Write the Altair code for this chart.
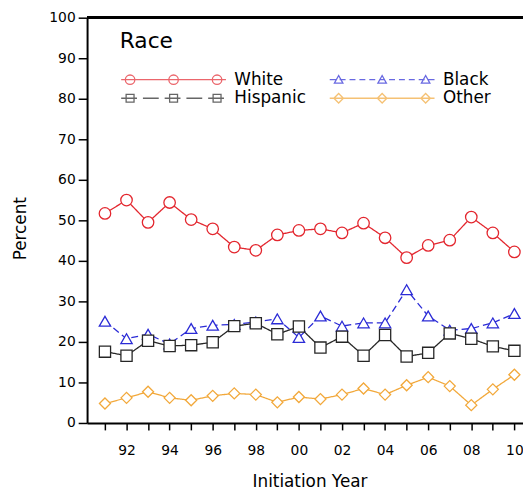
import altair as alt
import pandas as pd

years = list(range(1991, 2011))
races = ["White", "Black", "Hispanic", "Other"]
white = [51.7, 55.0, 49.5, 54.4, 50.2, 47.9, 43.4, 42.6, 46.4, 47.5,
         47.9, 46.9, 49.3, 45.7, 40.8, 43.8, 45.1, 50.8, 46.9, 42.2]
black = [25.1, 20.8, 21.9, 19.5, 23.3, 24.1, 24.3, 24.9, 25.7, 21.1,
         26.4, 23.9, 24.7, 24.7, 32.9, 26.4, 22.9, 23.3, 24.7, 27.0]
hispanic = [17.6, 16.6, 20.3, 19.0, 19.2, 19.9, 23.9, 24.6, 21.9, 23.8,
            18.6, 21.3, 16.6, 21.7, 16.4, 17.3, 22.1, 20.8, 18.9, 17.8]
other = [4.8, 6.2, 7.7, 6.2, 5.6, 6.7, 7.3, 7.0, 5.1, 6.4,
         5.9, 7.0, 8.5, 7.0, 9.3, 11.3, 9.1, 4.4, 8.3, 11.9]
y_ticks = list(range(0, 101, 10))

colors = ["#e3262e", "#2b2bd6", "#262626", "#f2a83a"]
shapes = ["circle", "triangle-up", "square", "diamond"]
sizes = [135, 125, 140, 150]
dashes = [[1, 0], [7, 4], [1, 0], [1, 0]]

series = {"White": white, "Black": black, "Hispanic": hispanic, "Other": other}
df = pd.DataFrame(
    [{"year": y, "race": r, "pct": v} for r in races for y, v in zip(years, series[r])]
)

# legend glyphs: line with three markers (pixel units, symbol size 4 -> scale 1)
def circ(cx, r):
    return f"M{cx + r} 0A{r} {r} 0 1 1 {cx - r} 0A{r} {r} 0 1 1 {cx + r} 0"

def sq(cx, s):
    return f"M{cx - s} {-s}L{cx + s} {-s}L{cx + s} {s}L{cx - s} {s}Z"

def tri(cx, s):
    return f"M{cx} {-s}L{cx + s} {s * 0.8}L{cx - s} {s * 0.8}Z"

def dia(cx, s):
    return f"M{cx - s} 0L{cx} {-s}L{cx + s} 0L{cx} {s}Z"

def dashed(x0, x1, on, off):
    segs, x = [], x0
    while x < x1:
        segs.append(f"M{x} 0L{min(x + on, x1)} 0")
        x += on + off
    return "".join(segs)

marks_x = [-44, 0, 44]
leg_white = "M-53 0L53 0" + "".join(circ(c, 4.8) for c in marks_x)
leg_black = dashed(-53, 53, 6, 4) + "".join(tri(c, 4.3) for c in marks_x)
leg_hisp = dashed(-53, 53, 16, 6) + "".join(sq(c, 4) for c in marks_x)
leg_other = "M-53 0L53 0" + "".join(dia(c, 4.8) for c in marks_x)
legend_paths = [leg_white, leg_black, leg_hisp, leg_other]

FONT = "DejaVu Sans"

x_scale = alt.Scale(domain=[1990.17, 2010.4], nice=False, zero=False)
y_scale = alt.Scale(domain=[0, 100], nice=False)

x_axis = alt.Axis(
    title="Initiation Year", values=years, grid=False,
    labelExpr="(datum.value % 2 == 0) ? slice(toString(datum.value), 2) : ''",
    tickSize=7, tickWidth=1.5, tickColor="black",
    domainWidth=2, domainColor="black",
    labelFontSize=14, labelPadding=14, labelOverlap=False,
    titleFontSize=17, titleFontWeight="normal",
    titleX=225, titleY=64, titleBaseline="alphabetic", titleAlign="center",
)
x_enc = alt.X("year:Q", scale=x_scale, axis=x_axis)
y_enc = alt.Y(
    "pct:Q", scale=y_scale,
    axis=alt.Axis(
        title="Percent", values=y_ticks, grid=False,
        tickSize=9, tickWidth=1.5, tickColor="black",
        domainWidth=2, domainColor="black",
        labelFontSize=14, labelPadding=3,
        titleFontSize=17, titleFontWeight="normal",
        titleAngle=270, titleX=-67, titleY=213,
        titleAlign="center", titleBaseline="middle",
    ),
)

color_scale = alt.Scale(domain=races, range=colors)

base = alt.Chart(df)

lines = base.mark_line(strokeWidth=1.3).encode(
    x=x_enc, y=y_enc,
    color=alt.Color("race:N", scale=color_scale, legend=None),
    strokeDash=alt.StrokeDash("race:N", scale=alt.Scale(domain=races, range=dashes), legend=None),
)

points = base.mark_point(filled=False, fill="white", strokeWidth=1.3, opacity=1).encode(
    x=x_enc, y=y_enc,
    color=alt.Color("race:N", scale=color_scale, legend=None),
    shape=alt.Shape("race:N", scale=alt.Scale(domain=races, range=shapes), legend=None),
    size=alt.Size("race:N", scale=alt.Scale(domain=races, range=sizes), legend=None),
)

legend = alt.Legend(
    orient="none", legendX=33, legendY=14, padding=0, direction="horizontal",
    title="Race", titleFontSize=22, titleFontWeight="normal", titleColor="black",
    titleFont=FONT, titlePadding=18, titleAnchor="start",
    columns=2, columnPadding=20, rowPadding=1,
    labelFontSize=17, labelFont=FONT, labelColor="black",
    symbolSize=4, symbolStrokeWidth=1.3, symbolOffset=46, labelOffset=53,
    symbolFillColor="transparent",
)

legend_layer = base.mark_point(filled=False, clip=True, size=4, strokeWidth=1.3).encode(
    x=x_enc,
    y=alt.datum(-50),
    color=alt.Color("race:N", scale=alt.Scale(domain=races, range=colors), legend=legend,
                    sort=races),
    shape=alt.Shape("race:N", scale=alt.Scale(domain=races, range=legend_paths), legend=legend,
                    sort=races),
)

top_rule = base.mark_rule(color="black", strokeWidth=2).encode(y=alt.datum(100))

chart = alt.layer(lines, points, legend_layer, top_rule).resolve_scale(
    color="independent", shape="independent", size="independent", strokeDash="independent"
).properties(
    width=441, height=410,
    autosize=alt.AutoSizeParams(type="none"),
    padding={"left": 80, "top": 7, "right": 0, "bottom": 66},
).configure(
    font=FONT,
).configure_view(
    stroke=None,
).configure_axis(
    labelColor="black", titleColor="black", labelFont=FONT, titleFont=FONT,
)

chart.save("out.html", embed_options={"renderer": "svg", "actions": False})
